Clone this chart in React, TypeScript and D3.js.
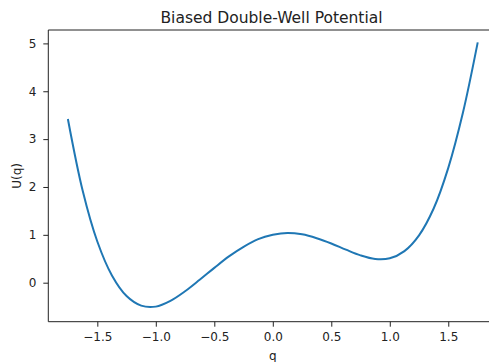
import React, { useRef, useEffect } from 'react';
import * as d3 from 'd3';

// values
const qValues = [
  -1.75, -1.625, -1.5, -1.375, -1.25, -1.125, -1.0, -0.875, -0.75, -0.625,
  -0.5, -0.375, -0.25, -0.125, 0.0, 0.125, 0.25, 0.375, 0.5, 0.625,
  0.75, 0.875, 1.0, 1.125, 1.25, 1.375, 1.5, 1.625, 1.75
];
const uValues = [
  3.40, 1.92, 0.86, 0.15, -0.28, -0.48, -0.50, -0.38, -0.18, 0.06,
  0.31, 0.55, 0.75, 0.91, 1.00, 1.04, 1.01, 0.93, 0.82, 0.69,
  0.57, 0.495, 0.51, 0.66, 0.99, 1.55, 2.40, 3.55, 5.0
];
const xTicks = [-1.5, -1.0, -0.5, 0.0, 0.5, 1.0, 1.5];
const yTicks = [0, 1, 2, 3, 4, 5];

const title = "Biased Double-Well Potential";
const xLabel = "q";
const yLabel = "U(q)";

function App() {
  const ref = useRef(null);

  var width = 489;
  var height = 362;
  var plot = { left: 48.3, right: 498, top: 30, bottom: 321.7 };

  useEffect(() => {
    const svg = d3.select(ref.current);
    svg.selectAll("*").remove();

    const font = "DejaVu Sans, sans-serif";
    const ink = "#222";

    var x = d3.scaleLinear().domain([-1.919, 1.925]).range([plot.left, plot.right]);
    var y = d3.scaleLinear().domain([-0.815, 5.28]).range([plot.bottom, plot.top]);

    const data = qValues.map((q, i) => ({ q: q, u: uValues[i] }));

    // curve
    const line = d3.line()
      .x((d) => x(d.q))
      .y((d) => y(d.u))
      .curve(d3.curveCatmullRom);

    svg.append("path")
      .datum(data)
      .attr("d", line)
      .attr("fill", "none")
      .attr("stroke", "#1f77b4")
      .attr("stroke-width", 2)
      .attr("stroke-linecap", "square");

    // spines (right one falls outside the picture)
    svg.append("line")
      .attr("x1", plot.left).attr("x2", plot.left)
      .attr("y1", plot.top).attr("y2", plot.bottom)
      .attr("stroke", ink).attr("stroke-width", 1);
    svg.append("line")
      .attr("x1", plot.left).attr("x2", plot.right)
      .attr("y1", plot.bottom).attr("y2", plot.bottom)
      .attr("stroke", ink).attr("stroke-width", 1);
    svg.append("line")
      .attr("x1", plot.left).attr("x2", plot.right)
      .attr("y1", plot.top).attr("y2", plot.top)
      .attr("stroke", ink).attr("stroke-width", 1);

    // x axis
    const xAxis = svg.append("g")
      .attr("transform", "translate(0," + plot.bottom + ")")
      .call(d3.axisBottom(x).tickValues(xTicks).tickSize(5).tickPadding(6)
        .tickFormat((d) => d3.format(".1f")(d).replace("-", "\u2212")));
    xAxis.select(".domain").remove();
    xAxis.selectAll("line").attr("stroke", ink);
    xAxis.selectAll("text")
      .attr("font-family", font)
      .attr("font-size", 12)
      .attr("fill", ink);

    // y axis
    const yAxis = svg.append("g")
      .attr("transform", "translate(" + plot.left + ",0)")
      .call(d3.axisLeft(y).tickValues(yTicks).tickSize(5).tickPadding(7)
        .tickFormat(d3.format("d")));
    yAxis.select(".domain").remove();
    yAxis.selectAll("line").attr("stroke", ink);
    yAxis.selectAll("text")
      .attr("font-family", font)
      .attr("font-size", 12)
      .attr("fill", ink);

    // title and labels
    svg.append("text")
      .attr("x", 271.5)
      .attr("y", 22.5)
      .attr("text-anchor", "middle")
      .attr("font-family", font)
      .attr("font-size", 15.5)
      .attr("fill", ink)
      .text(title);

    svg.append("text")
      .attr("x", 272.8)
      .attr("y", 360)
      .attr("text-anchor", "middle")
      .attr("font-family", font)
      .attr("font-size", 12)
      .attr("fill", ink)
      .text(xLabel);

    svg.append("text")
      .attr("transform", "translate(21," + ((plot.top + plot.bottom) / 2) + ")rotate(-90)")
      .attr("text-anchor", "middle")
      .attr("font-family", font)
      .attr("font-size", 12)
      .attr("fill", ink)
      .text(yLabel);
  }, []);

  return (
    <div style={{ width: width, height: height, overflow: "hidden" }}>
      <style>{`body { margin: 0; background: #fff; }`}</style>
      <svg ref={ref} width={width} height={height} style={{ display: "block" }}></svg>
    </div>
  );
}

export default App;
